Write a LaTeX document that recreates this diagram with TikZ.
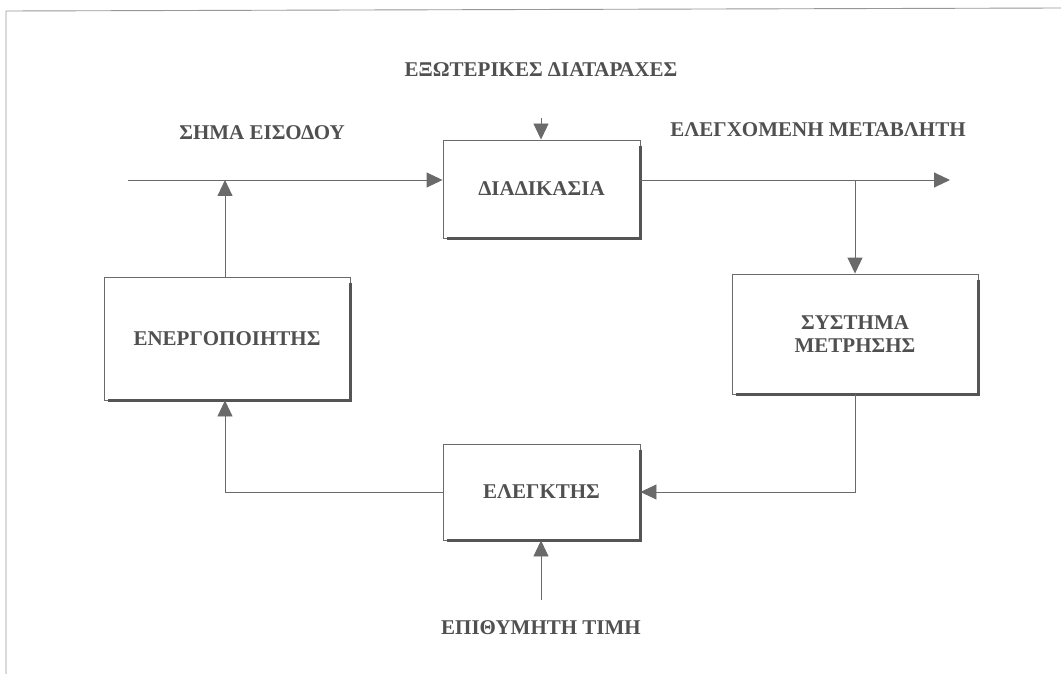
\documentclass[tikz,border=0pt]{standalone}
\usepackage{fontspec}
\setmainfont{Liberation Serif}
\usetikzlibrary{arrows.meta}
\definecolor{ln}{HTML}{6A6A6A}
\definecolor{tx}{HTML}{505050}
\tikzset{
  x=1pt, y=-1pt,
  blk/.style={draw=ln, line width=0.9pt, rectangle, inner sep=0pt, font=\fontsize{21}{23}\selectfont\bfseries, text=tx, align=center},
  lbl/.style={font=\fontsize{21}{23}\selectfont\bfseries, text=tx, inner sep=0pt},
  con/.style={draw=ln, line width=0.9pt},
  arr/.style={con, -{Triangle[length=16pt,width=15pt]}},
  shd/.style={draw=ln!80!black, line width=2.4pt}
}
\newcommand{\shadowbox}[1]{\draw[shd] ([yshift=-6pt]#1.north east) -- (#1.south east) -- ([xshift=4pt]#1.south west);}
\begin{document}
\begin{tikzpicture}
\useasboundingbox (0,0) rectangle (1061,674);
% page frame
\draw[draw=ln!70, line width=0.9pt] (6,674) -- (6,11) -- (1061,8);
% blocks
\node[blk, minimum width=197pt, minimum height=98pt] (proc) at (541.5,189) {ΔΙΑΔΙΚΑΣΙΑ};
\node[blk, minimum width=246pt, minimum height=123pt] (act) at (227,338.5) {ΕΝΕΡΓΟΠΟΙΗΤΗΣ};
\node[blk, minimum width=246pt, minimum height=120pt] (meas) at (855,334) {ΣΥΣΤΗΜΑ\\ΜΕΤΡΗΣΗΣ};
\node[blk, minimum width=197pt, minimum height=96pt] (ctrl) at (541.5,492) {ΕΛΕΓΚΤΗΣ};
\shadowbox{proc}
\shadowbox{act}
\shadowbox{meas}
\shadowbox{ctrl}
% labels
\node[lbl] (dist) at (541,70) {ΕΞΩΤΕΡΙΚΕΣ ΔΙΑΤΑΡΑΧΕΣ};
\node[lbl] (inlbl) at (262,133) {ΣΗΜΑ ΕΙΣΟΔΟΥ};
\node[lbl] (outlbl) at (818,130) {ΕΛΕΓΧΟΜΕΝΗ ΜΕΤΑΒΛΗΤΗ};
\node[lbl] (set) at (541,628) {ΕΠΙΘΥΜΗΤΗ ΤΙΜΗ};
% coordinates
\coordinate (instart) at (128,180);
\coordinate (injoin) at (225,180);
\coordinate (outend) at (950,180);
\coordinate (branch) at (855,180);
\coordinate (disttop) at (541,118);
\coordinate (setbot) at (541,600);
% connectors
\draw[arr] (instart) -- (proc.west |- instart);
\draw[arr] (act.north -| injoin) -- (injoin);
\draw[arr] (disttop) -- (proc.north -| disttop);
\draw[arr] (proc.east |- branch) -- (outend);
\draw[arr] (branch) -- (meas.north -| branch);
\draw[arr] (meas.south) |- (ctrl.east);
\draw[arr] (ctrl.west) -| (act.south -| injoin);
\draw[arr] (setbot) -- (ctrl.south -| setbot);
\end{tikzpicture}
\end{document}
